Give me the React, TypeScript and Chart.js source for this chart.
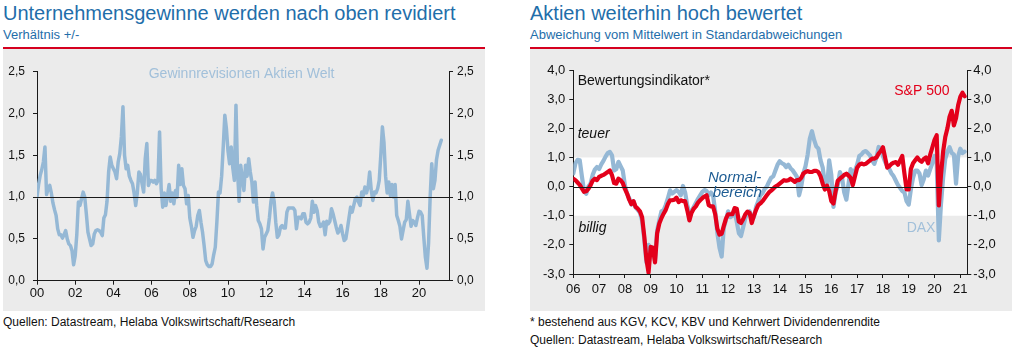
import React, { useEffect, useRef } from 'react';
import { Chart, registerables } from 'chart.js';

Chart.register(...registerables);

const FONT = 'Liberation Sans, Arial, Helvetica, sans-serif';
Chart.defaults.font.family = FONT;

// ---------- Left chart data: monthly, starting Jan 2000 ----------
const gewinnStartYear = 2000;
const gewinnLabel = 'Gewinnrevisionen Aktien Welt';
const gewinnValues = [
  1.0, 1.15, 1.26, 1.33, 1.42, 1.6, 1.03, 1.1, 1.14, 1.05, 0.93, 0.85,
  0.78, 0.62, 0.55, 0.55, 0.51, 0.55, 0.6, 0.5, 0.44, 0.42, 0.36, 0.19,
  0.3, 0.55, 0.94, 0.9, 0.98, 1.06, 1.0, 0.8, 0.58, 0.5, 0.42, 0.44,
  0.56, 0.6, 0.61, 0.6, 0.58, 0.54, 0.75, 0.79, 0.95, 1.3, 1.48, 1.38,
  1.34, 1.3, 1.22, 1.42, 1.52, 1.72, 2.08, 1.5, 1.34, 1.38, 1.25, 1.2,
  1.16, 1.05, 0.9, 1.05, 1.3, 1.27, 1.16, 1.06, 1.46, 1.64, 1.14, 1.2,
  1.2, 1.18, 1.2, 1.16, 1.2, 1.78, 1.1, 0.88, 1.05, 0.9, 1.02, 1.15,
  0.95, 1.05, 0.92, 1.08, 1.0, 1.38, 1.15, 1.34, 1.14, 1.1, 0.92, 1.02,
  0.75, 0.65, 0.52, 0.6, 0.65, 0.78, 0.84, 0.7, 0.58, 0.42, 0.24, 0.19,
  0.17, 0.17, 0.2, 0.31, 0.4, 0.7, 1.06, 1.05, 1.25, 1.6, 1.98, 1.82,
  1.55, 1.4, 1.6, 1.35, 1.2, 2.1, 1.3, 0.95, 1.38, 1.22, 1.08, 1.38,
  1.25, 1.46, 1.3, 1.18, 0.94, 1.18, 0.9, 0.72, 0.68, 0.62, 0.38, 0.52,
  0.56, 0.6, 0.75, 0.95, 1.05, 0.95, 0.7, 0.52, 0.55, 0.64, 0.66, 0.63,
  0.63, 0.82, 0.87, 0.87, 0.87, 0.87, 0.84, 0.62, 0.76, 0.76, 0.74, 0.8,
  0.8, 0.7, 0.68, 0.7, 0.75, 0.95, 0.82, 0.9, 0.84, 0.7, 0.65, 0.66,
  0.7, 0.55, 0.71, 0.68, 0.71, 0.86, 0.8, 0.72, 0.64, 0.57, 0.6, 0.66,
  0.56, 0.48, 0.5, 0.62, 0.75, 0.88, 0.82, 0.9, 0.98, 1.0, 0.94, 0.9,
  1.06, 1.02, 1.12, 1.05, 1.12, 1.3, 1.08, 0.96, 1.06, 1.05, 1.1, 1.2,
  1.5, 1.84, 1.65, 1.25, 1.05, 1.18, 1.02, 1.15, 1.0, 1.15, 0.78, 0.72,
  0.65, 0.5, 0.6, 0.7, 0.73, 0.95, 0.8, 0.65, 0.72, 0.7, 0.66, 0.75,
  0.83, 0.82, 0.78, 0.52, 0.28, 0.15, 0.45, 1.0, 1.4, 1.1, 1.2, 1.45,
  1.56, 1.62, 1.68,
];
const leftXMin = 2000;
const leftXMax = 2021.57;
const leftYMin = 0;
const leftYMax = 2.5;
const leftRefValue = 1.0;

// ---------- Right chart data: monthly, starting Jan 2006 ----------
const bewertungStartYear = 2006;
const spLabel = 'S&P 500';
const daxLabel = 'DAX';
const daxValues = [
  0.45, 0.8, 0.92, 0.9, 0.35, -0.15, -0.25, 0.0, 0.1, 0.4, 0.58, 0.67,
  0.6, 0.76, 0.88, 1.03, 1.15, 1.19, 1.07, 0.55, 0.6, 0.85, 0.7, 0.55,
  0.05, -0.24, -0.4, -0.62, -0.5, -0.72, -0.8, -0.9, -1.17, -1.8, -2.6, -2.0,
  -2.15, -2.1, -2.55, -1.5, -1.16, -0.85, -0.81, -0.63, -0.4, -0.13, -0.24, -0.18,
  -0.12, -0.18, -0.3, 0.02, -0.2, -0.64, -0.9, -0.85, -0.7, -0.56, -0.42, -0.3,
  -0.18, -0.12, -0.15, -0.3, -0.2, -0.3, -0.85, -1.6, -2.1, -2.4, -1.4, -1.15,
  -0.85, -1.05, -1.0, -0.85, -1.2, -1.6, -1.7, -1.4, -1.08, -0.93, -0.85, -1.1,
  -1.05, -0.7, -0.5, -0.3, -0.22, -0.08, 0.0, 0.16, 0.3, 0.35, 0.55, 0.75,
  0.87, 0.8, 0.76, 0.67, 0.75, 0.63, 0.56, 0.45, 0.33, -0.3, 0.0, 0.45,
  0.7, 1.1, 1.65, 1.9, 1.6, 1.38, 1.3, 0.9, 0.65, 0.1, -0.05, 0.9,
  0.4, -0.7, -0.2, 0.05, 0.5, 0.3, -0.2, -0.45, 0.1, 0.6, 0.4, 0.55,
  0.75, 1.05, 1.1, 1.19, 1.22, 1.15, 1.07, 0.9, 0.78, 1.0, 1.36, 1.3,
  1.05, 0.85, 0.7, 0.6, 0.45, 0.35, 0.2, 0.05, -0.05, -0.15, -0.2, -0.5,
  -0.62, -0.1, 0.3, 0.55, 0.55, 0.45, 0.05, 0.25, 0.55, 0.38, 0.6, 0.8,
  1.05, 0.84, -1.85, -0.6, 0.3, 0.95, 1.2, 1.35, 1.15, 1.1, 0.1, 1.05,
  1.3, 1.15, 1.2,
];
const spValues = [
  0.27, 0.22, 0.14, 0.06, -0.06, -0.18, -0.16, -0.08, 0.04, 0.2, 0.27, 0.22,
  0.33, 0.37, 0.4, 0.45, 0.5, 0.55, 0.39, 0.12, 0.1, 0.27, 0.22, 0.12,
  -0.08, -0.24, -0.45, -0.6, -0.5, -0.7, -0.76, -0.85, -1.05, -1.7, -2.5, -2.95,
  -2.07, -2.1, -2.6, -1.6, -1.27, -1.08, -0.93, -0.8, -0.6, -0.47, -0.47, -0.45,
  -0.38, -0.53, -0.47, -0.5, -0.5, -0.81, -1.16, -0.9, -0.76, -0.68, -0.55, -0.47,
  -0.4, -0.34, -0.3, -0.64, -0.68, -0.68, -0.95, -1.45, -1.65, -1.62, -1.35, -1.1,
  -0.95, -0.95, -0.95, -0.74, -0.76, -1.2, -1.25, -1.12, -0.95, -0.86, -0.9, -1.25,
  -1.0, -0.8, -0.64, -0.58, -0.5, -0.4, -0.3, -0.2, -0.14, -0.07, 0.0, 0.04,
  0.1, 0.16, 0.22, 0.2, 0.22, 0.27, 0.22, 0.16, 0.22, 0.22, 0.3, 0.45,
  0.5, 0.53, 0.5, 0.5, 0.54, 0.54, 0.5, 0.35, 0.1, -0.1, 0.03, -0.15,
  -0.5, -0.58, -0.15, 0.2, 0.27, 0.33, 0.4, 0.44, 0.38, 0.3, 0.05, 0.35,
  0.65, 0.75, 0.79, 0.76, 0.78, 0.84, 0.9, 0.96, 0.96, 1.0, 1.13, 1.22,
  1.35, 1.0, 0.65, 0.7, 0.78, 0.82, 0.84, 0.75, 0.9, 1.05, 0.45, -0.1,
  -0.1, 0.6, 0.8, 0.9, 1.0, 0.9, 0.85, 0.95, 1.0, 0.8, 1.1, 1.35,
  1.6, 1.76, -0.65, 0.4, 1.2, 1.7, 2.0, 2.4, 2.6, 2.1, 2.35, 2.8,
  3.08, 3.22, 3.1,
];
const rightXMin = 2006;
const rightXMax = 2021.27;
const rightYMin = -3;
const rightYMax = 4;
const normalBandLow = -1;
const normalBandHigh = 1;

// ---------- Colours ----------
const TITLE_BLUE = '#1f6eaa';
const HEAD_RED = '#d5001f';
const PANEL_GREY = '#ebebeb';
const LIGHT_BLUE = '#95b8d5';
const SP_RED = '#e3001b';
const DARK_BLUE = '#1d5c93';
const AXIS = '#1a1a1a';

const fmtComma = (v: number) => v.toFixed(1).replace('.', ',');
const fmtYear = (v: number) => String(Math.round(v) % 100).padStart(2, '0');

function toPoints(start: number, values: number[]) {
  return values.map((v, i) => ({ x: start + i / 12, y: v }));
}

function axisY(position: 'left' | 'right', min: number, max: number, step: number, width: number, fontSize: number, padding: number) {
  return {
    type: 'linear' as const,
    position,
    min,
    max,
    ticks: {
      stepSize: step,
      callback: (v: any) => fmtComma(Number(v)),
      font: { size: fontSize, family: FONT },
      color: '#111',
      padding,
      includeBounds: false,
    },
    grid: { drawOnChartArea: false, drawTicks: true, tickLength: 4, color: AXIS, lineWidth: 1 },
    border: { display: true, color: AXIS, width: 1 },
    afterFit: (s: any) => { s.width = width; },
  };
}

function LeftChart() {
  const ref = useRef<HTMLCanvasElement>(null);
  useEffect(() => {
    if (!ref.current) return;
    const refLine = {
      id: 'refLine',
      afterDatasetsDraw(chart: any) {
        const { ctx, chartArea } = chart;
        const y = Math.round(chart.scales.y.getPixelForValue(leftRefValue)) + 0.5;
        ctx.save();
        ctx.strokeStyle = AXIS;
        ctx.lineWidth = 1;
        ctx.beginPath();
        ctx.moveTo(chartArea.left, y);
        ctx.lineTo(chartArea.right, y);
        ctx.stroke();
        ctx.restore();
      },
      afterDraw(chart: any) {
        const { ctx } = chart;
        const x = chart.scales.x.getPixelForValue(2010.71);
        const y = chart.scales.y.getPixelForValue(2.43);
        ctx.save();
        ctx.font = `14px ${FONT}`;
        ctx.fillStyle = '#a2c0da';
        ctx.textAlign = 'center';
        ctx.textBaseline = 'alphabetic';
        ctx.fillText(gewinnLabel, x, y);
        ctx.restore();
      },
    };
    const chart = new Chart(ref.current, {
      type: 'line',
      data: {
        datasets: [{
          data: toPoints(gewinnStartYear, gewinnValues),
          borderColor: LIGHT_BLUE,
          borderWidth: 3.5,
          pointRadius: 0,
          tension: 0,
          borderJoinStyle: 'round',
          borderCapStyle: 'round',
        }],
      },
      options: {
        animation: false,
        responsive: false,
        maintainAspectRatio: false,
        devicePixelRatio: 1,
        layout: { padding: { top: 22.7, left: 0, right: 0, bottom: 0 } },
        plugins: { legend: { display: false }, tooltip: { enabled: false } },
        scales: {
          x: {
            type: 'linear',
            min: leftXMin,
            max: leftXMax,
            ticks: {
              stepSize: 2,
              includeBounds: false,
              callback: (v: any) => fmtYear(Number(v)),
              font: { size: 13, family: FONT },
              color: '#111',
              padding: 1,
              maxRotation: 0,
              autoSkip: false,
            },
            grid: { drawOnChartArea: false, drawTicks: true, tickLength: 4, color: AXIS },
            border: { display: true, color: AXIS, width: 1 },
            afterFit: (s: any) => { s.height = 30.3; },
          },
          y: axisY('left', leftYMin, leftYMax, 0.5, 34, 12, 8),
          y2: axisY('right', leftYMin, leftYMax, 0.5, 36, 12, 4),
        },
      } as any,
      plugins: [refLine],
    });
    return () => chart.destroy();
  }, []);
  return <canvas ref={ref} width={482} height={262} style={{ position: 'absolute', left: 3, top: 49, width: 482, height: 262 }} />;
}

function RightChart() {
  const ref = useRef<HTMLCanvasElement>(null);
  useEffect(() => {
    if (!ref.current) return;
    const band = {
      id: 'band',
      beforeDraw(chart: any) {
        const { ctx, chartArea } = chart;
        const yTop = chart.scales.y.getPixelForValue(normalBandHigh);
        const yBot = chart.scales.y.getPixelForValue(normalBandLow);
        ctx.save();
        ctx.fillStyle = '#ffffff';
        ctx.fillRect(chartArea.left, yTop, chartArea.right - chartArea.left, yBot - yTop);
        ctx.restore();
      },
      afterDatasetsDraw(chart: any) {
        const { ctx, chartArea } = chart;
        const y = Math.round(chart.scales.y.getPixelForValue(0)) + 0.5;
        ctx.save();
        ctx.strokeStyle = AXIS;
        ctx.lineWidth = 1;
        ctx.beginPath();
        ctx.moveTo(chartArea.left, y);
        ctx.lineTo(chartArea.right, y);
        ctx.stroke();
        ctx.restore();
      },
      afterDraw(chart: any) {
        const { ctx } = chart;
        const sx = chart.scales.x;
        const sy = chart.scales.y;
        const put = (text: string, xv: number, yv: number, font: string, color: string) => {
          ctx.font = font;
          ctx.fillStyle = color;
          ctx.fillText(text, sx.getPixelForValue(xv), sy.getPixelForValue(yv));
        };
        ctx.save();
        ctx.textAlign = 'left';
        ctx.textBaseline = 'alphabetic';
        put('Bewertungsindikator*', 2006.17, 3.48, `14px ${FONT}`, '#111');
        put('teuer', 2006.17, 1.65, `italic 14px ${FONT}`, '#111');
        put('billig', 2006.2, -1.56, `italic 14px ${FONT}`, '#111');
        put('Normal-', 2011.22, 0.16, `italic 15px ${FONT}`, DARK_BLUE);
        put('bereich', 2011.4, -0.36, `italic 15px ${FONT}`, DARK_BLUE);
        put(spLabel, 2018.44, 3.13, `14px ${FONT}`, SP_RED);
        put(daxLabel, 2018.92, -1.56, `14px ${FONT}`, '#a2c0da');
        ctx.restore();
      },
    };
    const chart = new Chart(ref.current, {
      type: 'line',
      data: {
        datasets: [
          {
            label: spLabel,
            data: toPoints(bewertungStartYear, spValues),
            borderColor: SP_RED,
            borderWidth: 4.2,
            pointRadius: 0,
            tension: 0,
            order: 1,
            borderJoinStyle: 'round',
            borderCapStyle: 'round',
          },
          {
            label: daxLabel,
            data: toPoints(bewertungStartYear, daxValues),
            borderColor: LIGHT_BLUE,
            borderWidth: 4.2,
            pointRadius: 0,
            tension: 0,
            order: 2,
            borderJoinStyle: 'round',
            borderCapStyle: 'round',
          },
        ],
      },
      options: {
        animation: false,
        responsive: false,
        maintainAspectRatio: false,
        devicePixelRatio: 1,
        layout: { padding: { top: 21, left: 0, right: 0, bottom: 0 } },
        plugins: { legend: { display: false }, tooltip: { enabled: false } },
        scales: {
          x: {
            type: 'linear',
            min: rightXMin,
            max: rightXMax,
            ticks: {
              stepSize: 1,
              includeBounds: false,
              callback: (v: any) => fmtYear(Number(v)),
              font: { size: 13, family: FONT },
              color: '#111',
              padding: 4,
              maxRotation: 0,
              autoSkip: false,
            },
            grid: { drawOnChartArea: false, drawTicks: true, tickLength: 4, color: AXIS },
            border: { display: true, color: AXIS, width: 1 },
            afterFit: (s: any) => { s.height = 37; },
          },
          y: axisY('left', rightYMin, rightYMax, 1, 43.3, 13, 4),
          y2: axisY('right', rightYMin, rightYMax, 1, 44.7, 13, 2),
        },
      } as any,
      plugins: [band],
    });
    return () => chart.destroy();
  }, []);
  return <canvas ref={ref} width={482} height={262} style={{ position: 'absolute', left: 530, top: 49, width: 482, height: 262 }} />;
}

const textBase: React.CSSProperties = {
  position: 'absolute',
  fontFamily: FONT,
  whiteSpace: 'nowrap',
  margin: 0,
};

export default function App() {
  return (
    <div style={{ position: 'absolute', left: 0, top: 0, width: 1014, height: 348, background: '#fff', overflow: 'hidden', fontFamily: FONT }}>
      {/* Left panel */}
      <div style={{ ...textBase, left: 3, top: 1, fontSize: 20, lineHeight: '24px', color: TITLE_BLUE }}>Unternehmensgewinne werden nach oben revidiert</div>
      <div style={{ ...textBase, left: 3, top: 27, fontSize: 13, lineHeight: '16px', color: TITLE_BLUE }}>Verhältnis +/-</div>
      <div style={{ position: 'absolute', left: 3, top: 47, width: 482, height: 1.5, background: HEAD_RED }} />
      <div style={{ position: 'absolute', left: 3, top: 49, width: 482, height: 262, background: PANEL_GREY }} />
      <LeftChart />
      <div style={{ ...textBase, left: 3, top: 315, fontSize: 12, lineHeight: '14px', color: '#111' }}>Quellen: Datastream, Helaba Volkswirtschaft/Research</div>

      {/* Right panel */}
      <div style={{ ...textBase, left: 530, top: 1, fontSize: 20, lineHeight: '24px', color: TITLE_BLUE }}>Aktien weiterhin hoch bewertet</div>
      <div style={{ ...textBase, left: 530, top: 27, fontSize: 13, lineHeight: '16px', color: TITLE_BLUE }}>Abweichung vom Mittelwert in Standardabweichungen</div>
      <div style={{ position: 'absolute', left: 530, top: 47, width: 482, height: 1.5, background: HEAD_RED }} />
      <div style={{ position: 'absolute', left: 530, top: 49, width: 482, height: 262, background: PANEL_GREY }} />
      <RightChart />
      <div style={{ ...textBase, left: 530, top: 315, fontSize: 12, lineHeight: '14px', color: '#111' }}>* bestehend aus KGV, KCV, KBV und Kehrwert Dividendenrendite</div>
      <div style={{ ...textBase, left: 530, top: 333, fontSize: 12, lineHeight: '14px', color: '#111' }}>Quellen: Datastream, Helaba Volkswirtschaft/Research</div>
    </div>
  );
}
